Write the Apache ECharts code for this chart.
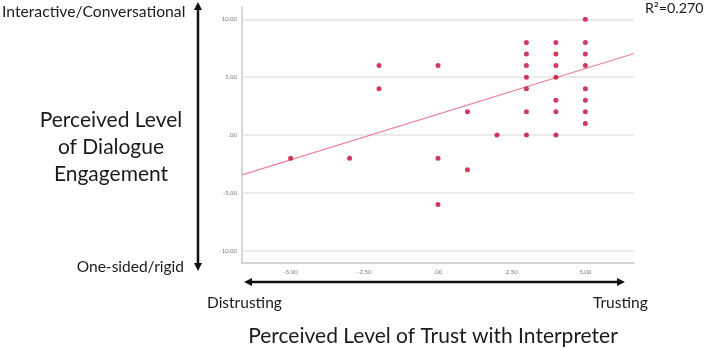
<!DOCTYPE html>
<html>
<head>
<meta charset="utf-8">
<script src="https://cdn.jsdelivr.net/npm/echarts@6/dist/echarts.min.js"></script>
<style>
  html, body { margin: 0; padding: 0; background: #fff; }
  #chart { width: 709px; height: 348px; }
</style>
</head>
<body>
<div id="chart"></div>
<script>
// points (trust score, dialogue score)
var trustX = [-5, -3, -2, -2, 0, 0, 0, 1, 1, 2,
    3, 3, 3, 3, 3, 3, 3,
    4, 4, 4, 4, 4, 4, 4,
    5, 5, 5, 5, 5, 5, 5, 5];
var dialogueY = [-2, -2, 6, 4, 6, -2, -6, 2, -3, 0,
    8, 7, 6, 5, 4, 2, 0,
    8, 7, 6, 5, 3, 2, 0,
    10, 8, 7, 6, 4, 3, 2, 1];
// fit line end points as drawn
var fitX = [-6.65, 6.65];
var fitY = [-3.45, 7.05];
var xTicks = [-5, -2.5, 0, 2.5, 5];
var yTicks = [-10, -5, 0, 5, 10];
var r2Text = "R\u00b2=0.270";

var font = "Lato";
var ink = "#1a1a1a";

function fmt(v) {
    if (v === 0) return ".00";
    return v.toFixed(2);
}

var points = trustX.map(function(x, i) { return [x, dialogueY[i]]; });
var fit = fitX.map(function(x, i) { return [x, fitY[i]]; });

var chart = echarts.init(document.getElementById("chart"));

var option = {
    animation: false,
    grid: { left: 242, right: 75, top: 7, bottom: 85 },
    xAxis: {
        type: "value",
        min: -6.65,
        max: 6.65,
        axisLine: { show: true, onZero: false, lineStyle: { color: "#c8c8c8", width: 1.5 } },
        axisTick: { show: false },
        splitLine: { show: false },
        axisLabel: {
            customValues: xTicks,
            formatter: fmt,
            fontSize: 6,
            color: "#777",
            margin: 6,
            fontFamily: font
        }
    },
    yAxis: {
        type: "value",
        min: -11.07,
        max: 11.07,
        axisLine: { show: true, onZero: false, lineStyle: { color: "#c8c8c8", width: 1.5 } },
        axisTick: { show: false },
        splitLine: { show: false },
        axisLabel: {
            customValues: yTicks,
            formatter: fmt,
            fontSize: 6,
            color: "#777",
            margin: 5,
            fontFamily: font
        }
    },
    series: [{
        type: "line",
        data: fit,
        symbol: "none",
        lineStyle: { color: "#ea8298", width: 1.2 },
        z: 2,
        markLine: {
            silent: true,
            symbol: "none",
            label: { show: false },
            lineStyle: { color: "#e3e3e3", width: 1.5, type: "solid" },
            data: yTicks.map(function(v) { return { yAxis: v }; }),
            z: 1
        }
    }, {
        type: "scatter",
        data: points,
        symbolSize: 5,
        itemStyle: { color: "#c40a35" },
        z: 3
    }],
    graphic: [
        // vertical arrow
        { type: "line", shape: { x1: 198, y1: 8, x2: 198, y2: 265 }, style: { stroke: "#111", lineWidth: 2.5 } },
        { type: "polygon", shape: { points: [[194, 10], [202, 10], [198, 2]] }, style: { fill: "#111" } },
        { type: "polygon", shape: { points: [[194, 263], [202, 263], [198, 271]] }, style: { fill: "#111" } },
        // horizontal arrow
        { type: "line", shape: { x1: 250, y1: 282, x2: 619, y2: 282 }, style: { stroke: "#111", lineWidth: 2.5 } },
        { type: "polygon", shape: { points: [[252, 278], [252, 286], [244, 282]] }, style: { fill: "#111" } },
        { type: "polygon", shape: { points: [[617, 278], [617, 286], [625, 282]] }, style: { fill: "#111" } },
        // axis annotations
        { type: "text", left: 2, top: 4, style: { text: "Interactive/Conversational", fontSize: 15.7, fontFamily: font, fill: ink } },
        { type: "text", right: 709 - 184, top: 259, style: { text: "One-sided/rigid", fontSize: 15.5, fontFamily: font, fill: ink } },
        { type: "text", x: 111, y: 147, style: {
            text: "Perceived Level\nof Dialogue\nEngagement", fontSize: 21, lineHeight: 27,
            fontFamily: font, fill: ink, align: "center", verticalAlign: "middle" } },
        { type: "text", left: 207, top: 295, style: { text: "Distrusting", fontSize: 15.5, fontFamily: font, fill: ink } },
        { type: "text", left: 593, top: 295, style: { text: "Trusting", fontSize: 15.5, fontFamily: font, fill: ink } },
        { type: "text", x: 433, y: 336, style: {
            text: "Perceived Level of Trust with Interpreter", fontSize: 21,
            fontFamily: font, fill: ink, align: "center", verticalAlign: "middle" } },
        { type: "text", left: 645, top: 1, style: { text: r2Text, fontSize: 14.3, fontFamily: font, fill: ink } }
    ]
};

chart.setOption(option);
</script>
</body>
</html>
